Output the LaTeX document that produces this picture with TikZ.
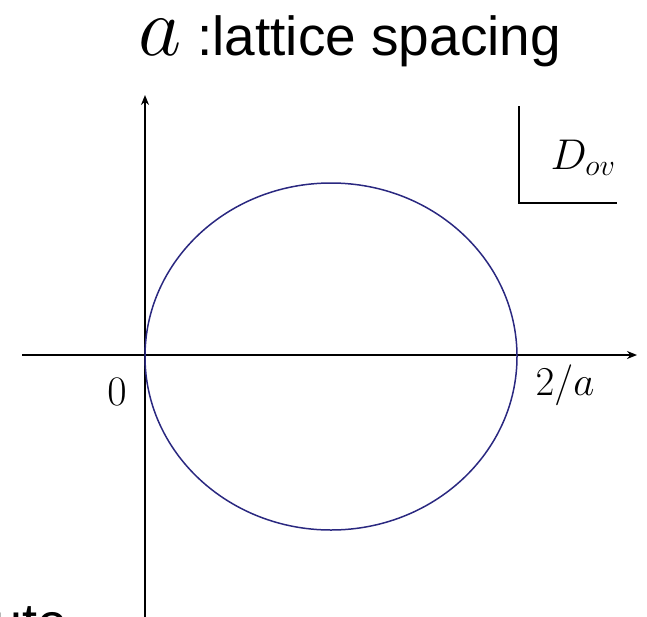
\RequirePackage{fix-cm}
\documentclass[tikz,border=0pt]{standalone}
\usepackage{fontspec}
\newfontfamily\hel{Liberation Sans}
\usetikzlibrary{arrows.meta}
\definecolor{curvecol}{RGB}{42,40,128}
\begin{document}
\begin{tikzpicture}[x=1pt,y=-1pt,
  axis/.style={line width=1.7pt,-{Stealth[length=10pt,width=8pt]}},
  frameline/.style={line width=1.7pt},
  curve/.style={line width=1.5pt,draw=curvecol},
  lbl/.style={inner sep=0pt}]
\useasboundingbox (0,0) rectangle (647,616);
\clip (0,0) rectangle (647,616);
\coordinate (xs) at (22,355);
\coordinate (xe) at (637,355);
\coordinate (ys) at (145,625);
\coordinate (ye) at (145,95);
\draw[axis] (xs) -- (xe);
\draw[axis] (ys) -- (ye);
\draw[curve] (331,356.5) ellipse [x radius=186, y radius=173.5];
\coordinate (b1) at (519,106);
\coordinate (b2) at (519,203);
\coordinate (b3) at (617,203);
\draw[frameline] (b1) -- (b2) -- (b3);
\node[lbl,anchor=base west] (ta) at (138,55) {\fontsize{84}{84}\selectfont$a$};
\node[lbl,anchor=base west] (tt) at (197,55) {\hel\fontsize{55}{60}\selectfont :lattice spacing};
\node[lbl] (dov) at (583,158) {\fontsize{43}{48}\selectfont$D_{ov}$};
\node[lbl] (zero) at (117,392) {\fontsize{42}{48}\selectfont$0$};
\node[lbl] (twoa) at (565,385) {\fontsize{41}{48}\selectfont$2/a$};
\node[lbl,anchor=base west] (ute) at (-8,641) {\hel\fontsize{54}{60}\selectfont ute};
\end{tikzpicture}
\end{document}
